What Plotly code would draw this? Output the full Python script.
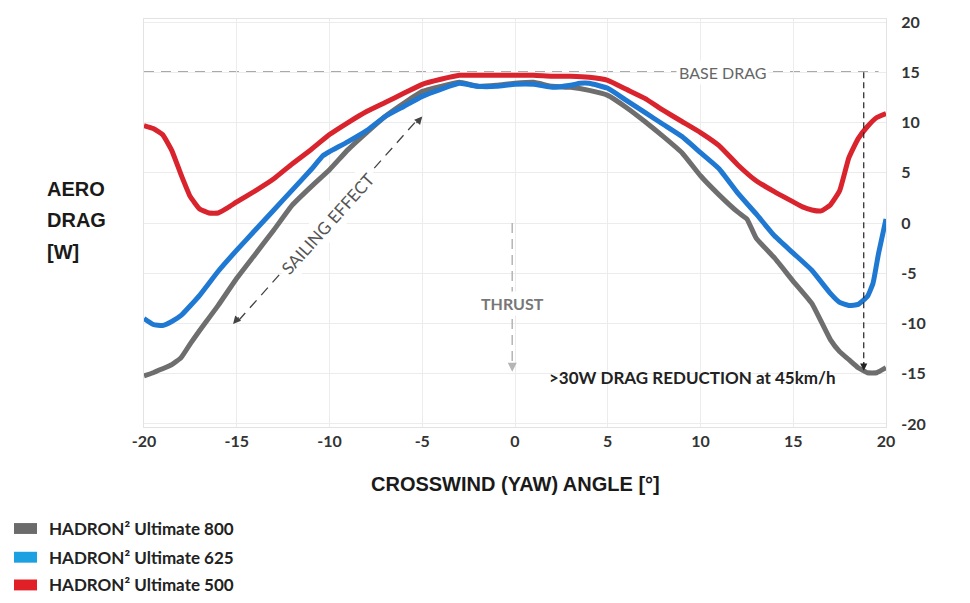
import plotly.graph_objects as go

# ---------------- data ----------------
x_500 = [-20, -19.5, -19, -18.5, -18, -17.5, -17, -16.5, -16, -15.5, -15, -14, -13, -12, -11, -10, -9, -8, -7, -6, -5,
         -4, -3, -2, -1, 0, 1, 2, 3, 4, 5, 6, 7, 8, 9, 10, 11, 12, 13, 14, 15, 15.5, 16, 16.5, 17, 17.5, 18, 18.5,
         19, 19.5, 20]
y_500 = [9.7, 9.4, 8.8, 7.2, 4.8, 2.6, 1.4, 1.0, 1.0, 1.5, 2.1, 3.2, 4.4, 5.9, 7.3, 8.8, 10.0, 11.1, 12.0, 12.9, 13.8,
         14.3, 14.7, 14.7, 14.7, 14.7, 14.7, 14.6, 14.6, 14.5, 14.2, 13.3, 12.4, 11.2, 10.1, 9.0, 7.7, 5.8, 4.2, 3.1,
         2.1, 1.6, 1.3, 1.2, 1.8, 3.2, 6.5, 8.4, 9.6, 10.5, 10.9]

x_625 = [-20, -19.5, -19, -18.5, -18, -17, -16, -15, -14, -13, -12, -11, -10.35, -10, -9, -8, -7, -6, -5, -4, -3,
         -2, -1, 0, 1, 2, 3, 3.5, 4, 5, 6, 7, 8, 9, 10, 11, 12, 13, 14, 15, 16, 17, 17.5, 18, 18.5, 19, 19.3,
         19.6, 20]
y_625 = [-9.5, -10.1, -10.2, -9.8, -9.2, -7.2, -4.8, -2.7, -0.7, 1.3, 3.3, 5.3, 6.7, 7.1, 8.1, 9.2, 10.6, 11.6,
         12.6, 13.3, 13.9, 13.6, 13.6, 13.8, 13.8, 13.5, 13.7, 13.9, 13.9, 13.4, 12.2, 11.0, 9.8, 8.6, 7.0, 5.4,
         3.0, 0.9, -1.3, -3.0, -4.7, -7.0, -7.9, -8.2, -8.1, -7.3, -6.0, -3.0, 0.4]

x_800 = [-20, -19.5, -19, -18.5, -18, -17.5, -17, -16, -15, -14, -13, -12, -11, -10, -9, -8, -7, -6, -5, -4, -3,
         -2, -1, 0, 1, 2, 3, 4, 5, 6, 7, 8, 9, 10, 11, 12, 12.5, 13, 14, 15, 16, 17, 17.5, 18, 18.5, 19, 19.5, 20]
y_800 = [-15.2, -14.9, -14.5, -14.1, -13.4, -12.0, -10.7, -8.2, -5.5, -3.1, -0.7, 1.8, 3.6, 5.3, 7.3, 9.0, 10.6,
         11.9, 13.1, 13.6, 14.0, 13.6, 13.7, 13.9, 14.0, 13.6, 13.5, 13.2, 12.7, 11.5, 10.1, 8.6, 7.0, 4.7, 2.8,
         1.1, 0.4, -1.5, -3.5, -5.8, -8.0, -11.6, -12.8, -13.6, -14.4, -14.9, -14.9, -14.4]

series_names = ["HADRON² Ultimate 800", "HADRON² Ultimate 625", "HADRON² Ultimate 500"]
line_colors = ["#6e6e6e", "#1f78d1", "#d9232d"]
legend_colors = ["#6b6b6b", "#1ba1e2", "#e11f26"]

x_ticks = [-20, -15, -10, -5, 0, 5, 10, 15, 20]
y_ticks = [-20, -15, -10, -5, 0, 5, 10, 15, 20]
y_title_lines = ["AERO", "DRAG", "[W]"]
x_title = "CROSSWIND (YAW) ANGLE [°]"

base_drag = 15

NARROW = "Liberation Sans Narrow, Liberation Sans, Arial, sans-serif"

# ---------------- figure ----------------
fig = go.Figure()
for xs, ys, name, col in [(x_800, y_800, series_names[0], line_colors[0]),
                          (x_625, y_625, series_names[1], line_colors[1]),
                          (x_500, y_500, series_names[2], line_colors[2])]:
    fig.add_trace(go.Scatter(x=xs, y=ys, mode="lines", name=name, showlegend=False,
                             line=dict(color=col, width=5, shape="spline", smoothing=0.4)))

L, R, T, B = 144, 886, 15, 427
W, H = R - L, B - T


def px(xp):
    return (xp - L) / W


def py(yp):
    return (B - yp) / H


shapes = []
annotations = []

shapes.append(dict(type="line", xref="x", yref="y", x0=-20, x1=19.6, y0=base_drag, y1=base_drag,
                   line=dict(color="#555555", width=1.5, dash="10px,7px"), layer="below"))
shapes.append(dict(type="line", xref="x", yref="y", x0=18.8, x1=18.8, y0=base_drag, y1=-14.5,
                   line=dict(color="#222222", width=1.2, dash="6px,4px")))
annotations.append(dict(x=18.8, y=-14.7, xref="x", yref="y", text="", showarrow=True, arrowhead=2,
                        arrowsize=1.2, arrowwidth=1.2, arrowcolor="#222222", ax=0, ay=-10))
annotations.append(dict(x=11.2, y=base_drag, xref="x", yref="y", text="BASE DRAG", showarrow=False,
                        yanchor="middle",
                        font=dict(family="Lato", size=16, color="#666666"), bgcolor="white", borderpad=2))

shapes.append(dict(type="line", xref="x", yref="y", x0=-0.15, x1=-0.15, y0=0, y1=-14.0,
                   line=dict(color="#b5b5b5", width=1.5, dash="10px,6px")))
annotations.append(dict(x=-0.15, y=-14.8, xref="x", yref="y", text="", showarrow=True, arrowhead=2,
                        arrowsize=1.2, arrowwidth=1.5, arrowcolor="#b5b5b5", ax=0, ay=-10))
annotations.append(dict(x=-0.15, y=-8.0, xref="x", yref="y", text="THRUST", showarrow=False,
                        yanchor="middle",
                        font=dict(family="Lato", size=16, color="#777777", weight="bold"),
                        bgcolor="white", borderpad=2))

shapes.append(dict(type="line", xref="x", yref="y", x0=-14.9, y0=-9.7, x1=-5.3, y1=10.2,
                   line=dict(color="#444444", width=1.3, dash="10px,7px")))
annotations.append(dict(x=-5.0, y=10.6, xref="x", yref="y", text="", showarrow=True, arrowhead=2,
                        arrowsize=1.2, arrowwidth=1.3, arrowcolor="#444444", ax=-7, ay=8))
annotations.append(dict(x=-15.2, y=-10.05, xref="x", yref="y", text="", showarrow=True, arrowhead=2,
                        arrowsize=1.2, arrowwidth=1.3, arrowcolor="#444444", ax=7, ay=-8))
annotations.append(dict(x=-10.1, y=0.0, xref="x", yref="y", text="SAILING EFFECT", showarrow=False,
                        textangle=-48, yanchor="middle", font=dict(family="Lato", size=17, color="#555555"),
                        bgcolor="white", borderpad=3))

annotations.append(dict(x=1.72, y=-15.4, xref="x", yref="y", text=">30W DRAG REDUCTION at 45km/h",
                        showarrow=False, xanchor="left", yanchor="middle",
                        font=dict(family="Lato", size=17, color="#222222", weight="bold")))

# y-axis title, one line per annotation to keep the original spacing
for yy, t in zip([187, 218, 250], y_title_lines):
    annotations.append(dict(x=px(45), y=py(yy), xref="paper", yref="paper", text=t,
                            showarrow=False, xanchor="left", yanchor="middle",
                            font=dict(family=NARROW, size=20, color="#1a1a1a", weight="bold")))
annotations.append(dict(x=px(515), y=py(485), xref="paper", yref="paper", text=x_title,
                        showarrow=False, xanchor="center", yanchor="middle",
                        font=dict(family=NARROW, size=20, color="#1a1a1a", weight="bold")))

for i, (name, col) in enumerate(zip(series_names, legend_colors)):
    cy = [529.5, 558.5, 586.5][i]
    shapes.append(dict(type="rect", xref="paper", yref="paper", x0=px(14), x1=px(37),
                       y0=py(cy + 5.5), y1=py(cy - 5.5), fillcolor=col, line=dict(width=0)))
    annotations.append(dict(x=px(47), y=py(cy), xref="paper", yref="paper", text=name, showarrow=False,
                            xanchor="left", yanchor="middle",
                            font=dict(family="Lato", size=17, color="#222222", weight="bold")))

fig.update_layout(
    width=970, height=603,
    margin=dict(l=L, r=970 - R, t=T, b=603 - B),
    paper_bgcolor="white", plot_bgcolor="white",
    showlegend=False,
    shapes=shapes, annotations=annotations,
    xaxis=dict(range=[-20, 20], tickvals=x_ticks, ticktext=[str(v) for v in x_ticks],
               showgrid=True, gridcolor="#ececec", gridwidth=1, zeroline=False,
               showline=True, linecolor="#e3e3e3", linewidth=1, mirror=True,
               ticks="", tickfont=dict(family="Lato", size=16, color="#333333", weight="bold")),
    yaxis=dict(range=[-20.3, 20.3], tickvals=y_ticks, ticktext=[str(v) for v in y_ticks], side="right",
               showgrid=True, gridcolor="#ececec", gridwidth=1, zeroline=False,
               showline=True, linecolor="#e3e3e3", linewidth=1, mirror=True,
               ticks="", ticklabelstandoff=11,
               tickfont=dict(family="Lato", size=16, color="#333333", weight="bold")),
)

fig.write_html("out.html")
